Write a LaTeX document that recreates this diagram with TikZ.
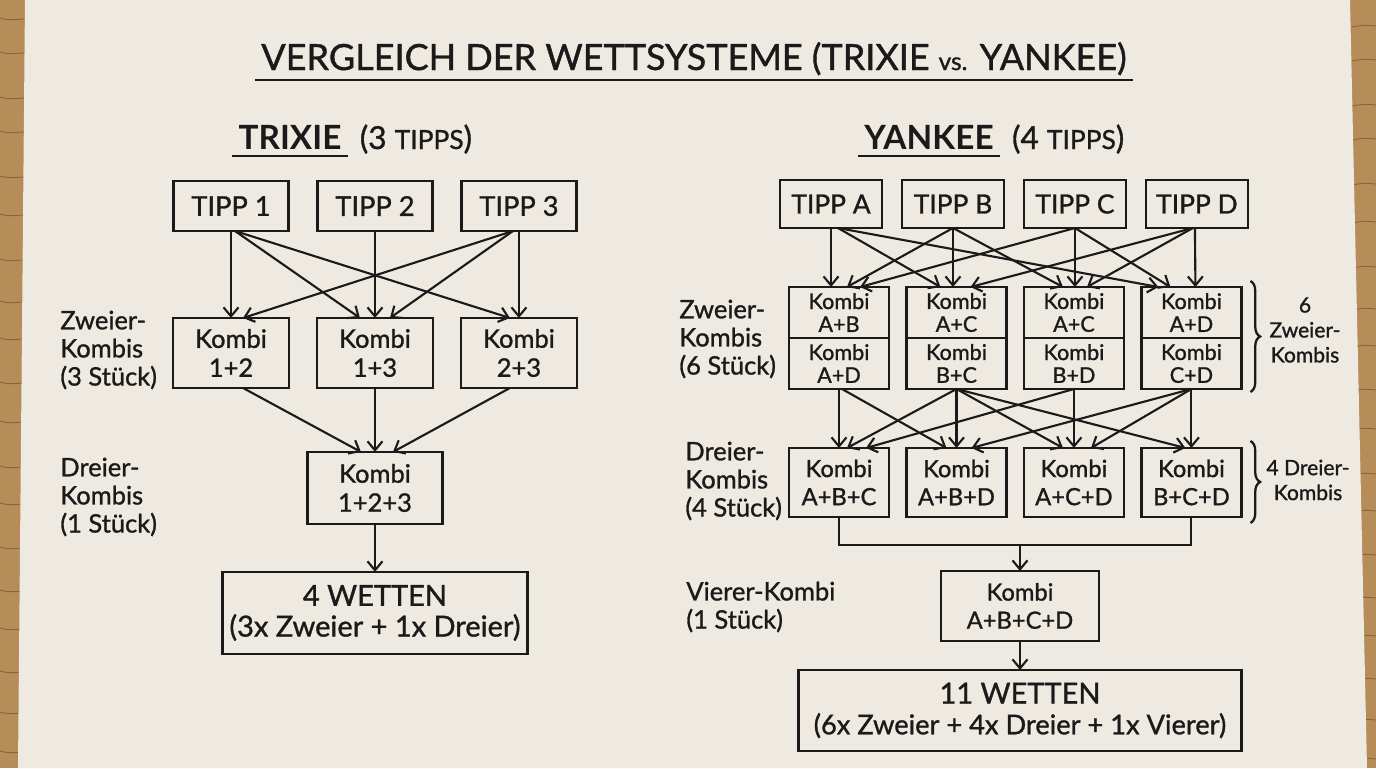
\documentclass[tikz,border=0pt]{standalone}
\usepackage{fontspec}
\setmainfont{Lato}[UprightFeatures={FakeBold=1.1}]
\usetikzlibrary{arrows.meta,positioning,calc,decorations.pathreplacing}

\definecolor{ink}{HTML}{1A1A1A}
\definecolor{paper}{HTML}{EEEAE1}
\definecolor{wood}{HTML}{B68C58}
\definecolor{grain}{HTML}{8A6439}

\begin{document}
\begin{tikzpicture}[
  x=0.02cm, y=-0.02cm,
  >={Straight Barb[length=1.8mm,width=3mm]},
  box/.style={rectangle, draw=ink, line width=1.4pt, outer sep=0pt, inner sep=0pt, align=center, text=ink},
  tipp/.style={box, minimum width=2.3cm, minimum height=1cm, font=\fontsize{15.5}{18}\selectfont},
  tippy/.style={box, minimum width=2.04cm, minimum height=0.96cm, font=\fontsize{15}{18}\selectfont},
  kombi/.style={box, minimum width=2.32cm, minimum height=1.4cm, font=\fontsize{14.5}{16.5}\selectfont},
  half/.style={box, minimum width=2cm, minimum height=1.02cm, font=\fontsize{12.3}{13}\selectfont},
  drei/.style={box, minimum width=2cm, minimum height=1.38cm, font=\fontsize{13.5}{16}\selectfont},
  total/.style={box, font=\fontsize{16.5}{17.5}\selectfont},
  lbl/.style={align=left, anchor=west, text=ink, inner sep=0pt, font=\fontsize{14.5}{16}\selectfont},
  side/.style={align=center, text=ink, inner sep=0pt, font=\fontsize{12}{14.2}\selectfont},
  arr/.style={->, draw=ink, line width=1.2pt},
  brace/.style={draw=ink, line width=1.3pt, decorate, decoration={brace, amplitude=5.5pt}}
]
\useasboundingbox (0,0) rectangle (1376,768);

% paper on the table
\fill[wood] (0,0) rectangle (1376,768);
\foreach \yy in {18,52,97,131,176,214,259,301,338,382,421,466,503,547,590,628,671,712,751}
  {\draw[grain, line width=0.5pt] (0,\yy) .. controls (8,\yy+2) .. (24,\yy+1);
   \draw[grain, line width=0.5pt] (1352,\yy+9) .. controls (1364,\yy+7) .. (1376,\yy+8);}
\fill[paper] (25,0) -- (1350,0) -- (1367,768) -- (18,768) -- cycle;

% title
\node[text=ink, anchor=base, font=\fontsize{20.5}{24}\selectfont] (title) at (694,70)
  {VERGLEICH DER WETTSYSTEME (TRIXIE {\fontsize{14}{16}\selectfont vs.} YANKEE)};
\draw[ink, line width=1.7pt] ($(title.base west)+(0,10)$) -- ($(title.base east)+(0,10)$);

% Trixie
\node[text=ink, anchor=base, font=\fontsize{19}{22}\selectfont\bfseries] (trx) at (290,149) {TRIXIE};
\draw[ink, line width=1.7pt] ($(trx.base west)+(0,7)$) -- ($(trx.base east)+(0,7)$);
\node[text=ink, anchor=base west, font=\fontsize{18}{22}\selectfont] (trxn) at ([xshift=0.12cm]trx.base east)
  {(3 {\fontsize{15}{18}\selectfont TIPPS})};

\node[tipp] (t1) at (231,206) {TIPP 1};
\node[tipp, right=0.58cm of t1] (t2) {TIPP 2};
\node[tipp, right=0.58cm of t2] (t3) {TIPP 3};

\node[kombi, below=1.74cm of t1] (k12) {Kombi\\1+2};
\node[kombi, below=1.74cm of t2] (k13) {Kombi\\1+3};
\node[kombi, below=1.74cm of t3] (k23) {Kombi\\2+3};

\node[kombi, minimum width=2.7cm, minimum height=1.44cm, below=1.28cm of k13] (k123) {Kombi\\1+2+3};
\node[total, minimum width=6.1cm, minimum height=1.64cm, below=0.96cm of k123] (tres)
  {4 WETTEN\\(3x Zweier + 1x Dreier)};

\node[lbl] (tl2) at (60,350) {Zweier-\\Kombis\\(3 Stück)};
\node[lbl] (tl3) at (60,497) {Dreier-\\Kombis\\(1 Stück)};

\draw[arr] (t1.south) -- (k12.north);
\draw[arr] ($(t1.south)+(4,0)$) -- ($(k13.north)+(-15,0)$);
\draw[arr] ($(t1.south)+(4,0)$) -- ($(k23.north)+(-9,0)$);
\draw[arr] (t2.south) -- (k13.north);
\draw[arr] ($(t3.south)+(-6,0)$) -- ($(k12.north)+(12,0)$);
\draw[arr] ($(t3.south)+(-6,0)$) -- ($(k13.north)+(15,0)$);
\draw[arr] (t3.south) -- (k23.north);
\draw[arr] ($(k12.south)+(12,0)$) -- ($(k123.north)+(-14,0)$);
\draw[arr] (k13.south) -- (k13.south |- k123.north);
\draw[arr] ($(k23.south)+(-9,0)$) -- ($(k123.north)+(18,0)$);
\draw[arr] (k123.south) -- (k123.south |- tres.north);

% Yankee
\node[text=ink, anchor=base, font=\fontsize{19}{22}\selectfont\bfseries] (yan) at (929,149) {YANKEE};
\draw[ink, line width=1.7pt] ($(yan.base west)+(0,7)$) -- ($(yan.base east)+(0,7)$);
\node[text=ink, anchor=base west, font=\fontsize{18}{22}\selectfont] (yann) at ([xshift=0.12cm]yan.base east)
  {(4 {\fontsize{15}{18}\selectfont TIPPS})};

\node[tippy] (tA) at (831,204) {TIPP A};
\node[tippy, right=0.4cm of tA] (tB) {TIPP B};
\node[tippy, right=0.4cm of tB] (tC) {TIPP C};
\node[tippy, right=0.4cm of tC] (tD) {TIPP D};

\node[half] (z1a) at (839,312.5) {Kombi\\A+B};
\node[half, right=0.35cm of z1a] (z2a) {Kombi\\A+C};
\node[half, right=0.35cm of z2a] (z3a) {Kombi\\A+C};
\node[half, right=0.35cm of z3a] (z4a) {Kombi\\A+D};
\node[half, below=0pt of z1a] (z1b) {Kombi\\A+D};
\node[half, below=0pt of z2a] (z2b) {Kombi\\B+C};
\node[half, below=0pt of z3a] (z3b) {Kombi\\B+D};
\node[half, below=0pt of z4a] (z4b) {Kombi\\C+D};

\node[drei, below=1.18cm of z1b] (d1) {Kombi\\A+B+C};
\node[drei, below=1.18cm of z2b] (d2) {Kombi\\A+B+D};
\node[drei, below=1.18cm of z3b] (d3) {Kombi\\A+C+D};
\node[drei, below=1.18cm of z4b] (d4) {Kombi\\B+C+D};

\coordinate (jn) at (1020,545);
\node[drei, minimum width=3.16cm, minimum height=1.4cm] (v) at (1020,606) {Kombi\\A+B+C+D};
\node[total, minimum width=8.86cm, minimum height=1.62cm, below=0.58cm of v] (yres)
  {11 WETTEN\\{\fontsize{15.5}{17.5}\selectfont (6x Zweier + 4x Dreier + 1x Vierer)}};

\node[lbl] (yl2) at (679,339) {Zweier-\\Kombis\\(6 Stück)};
\node[lbl] (yl3) at (685,481) {Dreier-\\Kombis\\(4 Stück)};
\node[lbl] (yl4) at (686,607) {Vierer-Kombi\\(1 Stück)};

\draw[brace] ($(z4a.north east)+(9,-6)$) -- ($(z4b.south east)+(9,3)$);
\draw[brace] ($(d4.north east)+(9,-7)$) -- ($(d4.south east)+(9,6)$);
\node[side] (ys2) at (1305,330) {6\\Zweier-\\Kombis};
\node[side] (ys3) at (1308,480) {4 Dreier-\\Kombis};

% tipps -> zweier
\draw[arr] (tA.south) -- (tA.south |- z1a.north);
\draw[arr] ($(tA.south)+(7,0)$) -- ($(z2a.north)+(-16,0)$);
\draw[arr] ($(tA.south)+(7,0)$) -- ($(z4a.north)+(-33,0)$);
\draw[arr] (tB.south) -- ($(z1a.north)+(8,0)$);
\draw[arr] (tB.south) -- (tB.south |- z2a.north);
\draw[arr] (tB.south) -- ($(z3a.north)+(-11,0)$);
\draw[arr] (tC.south) -- ($(z1a.north)+(21,0)$);
\draw[arr] (tC.south) -- (tC.south |- z3a.north);
\draw[arr] (tC.south) -- ($(z4a.north)+(-21,0)$);
\draw[arr] ($(tD.south)+(-4,0)$) -- ($(z2a.north)+(14,0)$);
\draw[arr] ($(tD.south)+(-4,0)$) -- ($(z3a.north)+(13,0)$);
\draw[arr] ($(tD.south)+(-2,0)$) -- ($(z4a.north)+(4,0)$);

% zweier -> dreier
\draw[arr] (z1b.south) -- (d1.north);
\draw[arr] ($(z1b.south)+(3,0)$) -- ($(d2.north)+(-10,0)$);
\draw[arr] (z2b.south) -- ($(d1.north)+(8,0)$);
\draw[arr] (z2b.south) -- (d2.north);
\draw[arr] (z2b.south) -- ($(d3.north)+(-11,0)$);
\draw[arr] (z2b.south) -- ($(d4.north)+(-6,0)$);
\draw[arr] (z3b.south) -- ($(d1.north)+(27,0)$);
\draw[arr] (z3b.south) -- (d3.north);
\draw[arr] (z4b.south) -- ($(d2.north)+(15,0)$);
\draw[arr] (z4b.south) -- ($(d3.north)+(17,0)$);
\draw[arr] (z4b.south) -- (d4.north);

% dreier -> vierer -> total
\draw[ink, line width=1.2pt] (d1.south) |- (jn) -| (d4.south);
\draw[arr] (jn) -- (v.north);
\draw[arr] (v.south) -- (yres.north);
\end{tikzpicture}
\end{document}
